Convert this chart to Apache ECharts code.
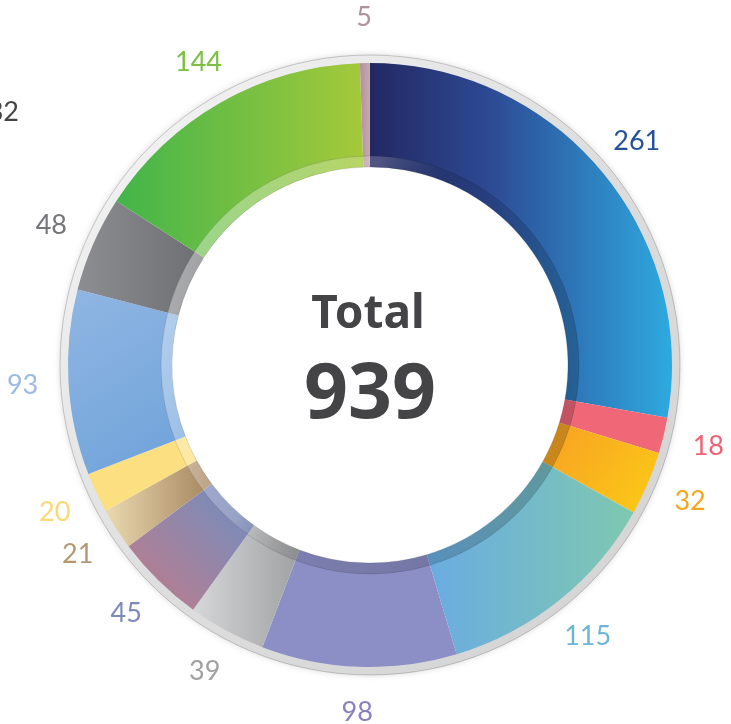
<!DOCTYPE html>
<html>
<head>
<meta charset="utf-8">
<title>Total 939</title>
<script src="https://cdn.jsdelivr.net/npm/echarts@6/dist/echarts.min.js"></script>
<style>
  html, body { margin: 0; padding: 0; background: #fff; }
  #chartMain { width: 731px; height: 724px; }
</style>
</head>
<body>
<div id="chartMain"></div>
<script>
// slices, clockwise from 12 o'clock
const names = ['A', 'B', 'C', 'D', 'E', 'F', 'G', 'H', 'I', 'J', 'K', 'L', 'M'];
const values = [261, 18, 32, 115, 98, 39, 45, 21, 20, 93, 48, 144, 5];
// gradient stops per slice [from, to] and direction
const colorFrom = ['#232862', '#f06878', '#f79f24', '#69ace2', '#8c8fc6', '#d6d7d8', '#c47a88', '#eadab0', '#fcdf80', '#90b6e3', '#8d8e91', '#42b54a', '#b4909c'];
const colorTo = ['#2eaae0', '#f06878', '#fccc16', '#7fc8b0', '#8c8fc6', '#a0a1a3', '#6b90c4', '#a5845e', '#fcdf80', '#6ea2d9', '#6d6e72', '#a5c93a', '#c7aab3'];
const diag = ['h', 'h', 'd', 'h', 'h', 'h', 'u', 'h', 'h', 'd', 'h', 'h', 'h'];
// label text colours
const labelColors = ['#25519b', '#ef6474', '#f9a51e', '#6db5d8', '#8a7fc0', '#a0a0a2', '#7b8abb', '#b39872', '#fcd876', '#9abae5', '#757679', '#7cc043', '#b0909c'];

const total = values.reduce((a, b) => a + b, 0);
const cx = 370, cy = 365;

function grad(i) {
    let x = 0, y = 0, x2 = 1, y2 = 0;
    if (diag[i] === 'd') { y2 = 1; }
    if (diag[i] === 'u') { y = 1; y2 = 0; }
    const stops = [{offset: 0, color: colorFrom[i]}];
    // the big navy slice goes through royal blue in the middle
    if (i === 0) stops.push({offset: 0.4, color: '#2d4a94'});
    stops.push({offset: 1, color: colorTo[i]});
    return new echarts.graphic.LinearGradient(x, y, x2, y2, stops);
}

const sliceData = values.map((v, i) => ({
    name: names[i],
    value: v,
    itemStyle: {color: grad(i)}
}));

const labelData = values.map((v, i) => ({
    name: names[i],
    value: v,
    label: {color: labelColors[i]}
}));

const myChart = echarts.init(document.getElementById('chartMain'));
myChart.setOption({
    animation: false,
    series: [
        {
            // outer grey rim
            type: 'pie',
            silent: true,
            center: [cx, cy],
            radius: [301, 310],
            label: {show: false},
            labelLine: {show: false},
            itemStyle: {
                color: new echarts.graphic.LinearGradient(0, 0, 1, 1, [
                    {offset: 0, color: '#f7f7f7'},
                    {offset: 0.5, color: '#dedede'},
                    {offset: 1, color: '#d2d2d2'}
                ]),
                borderColor: 'rgba(0,0,0,0.18)',
                borderWidth: 1,
                shadowBlur: 6,
                shadowColor: 'rgba(0,0,0,0.15)'
            },
            data: [{value: 1}]
        },
        {
            type: 'pie',
            center: [cx, cy],
            radius: [198, 302],
            startAngle: 90,
            clockwise: true,
            avoidLabelOverlap: false,
            label: {show: false},
            labelLine: {show: false},
            emphasis: {disabled: true},
            data: sliceData
        },
        {
            // translucent inner band
            type: 'pie',
            silent: true,
            center: [cx, cy],
            radius: [198, 209],
            label: {show: false},
            labelLine: {show: false},
            itemStyle: {
                color: new echarts.graphic.LinearGradient(0, 0.3, 1, 0.7, [
                    {offset: 0, color: 'rgba(255,255,255,0.4)'},
                    {offset: 0.35, color: 'rgba(255,255,255,0.2)'},
                    {offset: 0.5, color: 'rgba(0,0,0,0.12)'},
                    {offset: 1, color: 'rgba(0,0,0,0.2)'}
                ]),
                borderColor: 'rgba(0,0,0,0.12)',
                borderWidth: 1
            },
            data: [{value: 1}]
        },
        {
            // value labels
            type: 'pie',
            silent: true,
            center: [cx, cy],
            radius: [332, 358],
            startAngle: 90,
            clockwise: true,
            avoidLabelOverlap: false,
            itemStyle: {color: 'rgba(0,0,0,0)'},
            label: {
                show: true,
                position: 'inside',
                formatter: '{c}',
                fontFamily: 'Lato',
                fontSize: 27,
                fontWeight: 'normal'
            },
            labelLine: {show: false},
            data: labelData
        }
    ],
    graphic: [
        {
            type: 'text',
            x: cx - 2, y: 315,
            style: {
                text: 'Total',
                fill: '#444446',
                font: 'bold 46px "Noto Sans"',
                textAlign: 'center',
                textVerticalAlign: 'middle'
            }
        },
        {
            type: 'text',
            x: cx, y: 396,
            style: {
                text: String(total),
                fill: '#444446',
                font: 'bold 77px "Noto Sans"',
                textAlign: 'center',
                textVerticalAlign: 'middle'
            }
        },
        {
            type: 'text',
            x: 19, y: 112,
            style: {
                text: '132',
                fill: '#444446',
                font: '27px "Lato"',
                textAlign: 'right',
                textVerticalAlign: 'middle'
            }
        }
    ]
});
</script>
</body>
</html>
